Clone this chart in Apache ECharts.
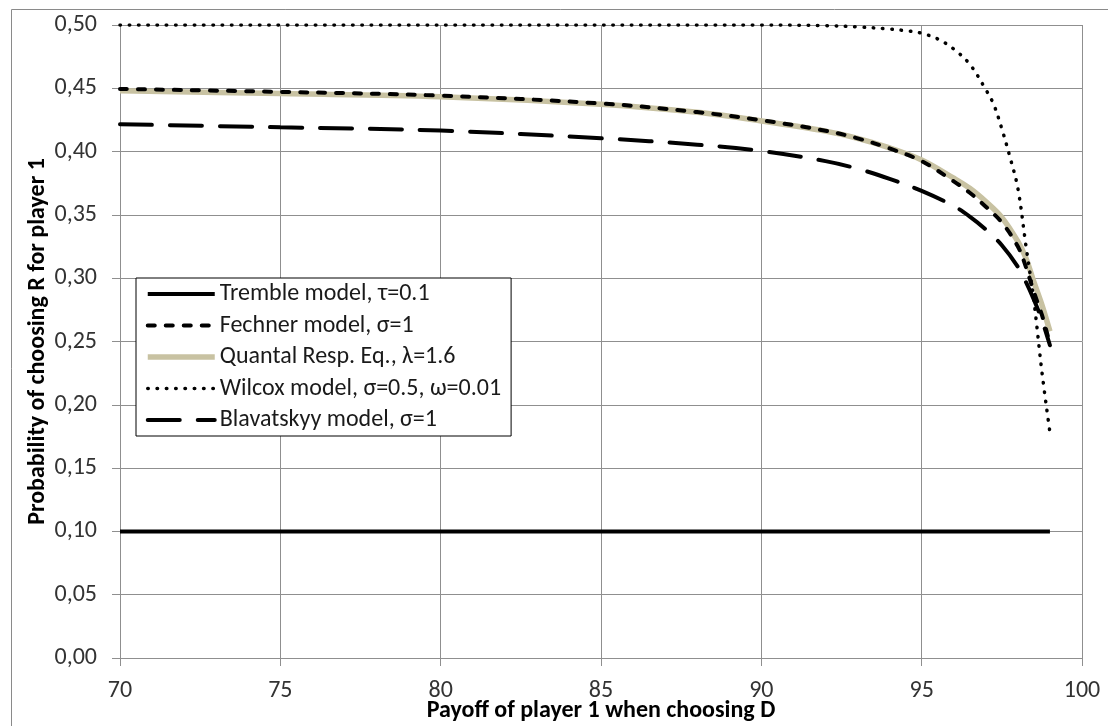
<!DOCTYPE html>
<html>
<head>
<meta charset="utf-8">
<script src="https://cdn.jsdelivr.net/npm/echarts@6/dist/echarts.min.js"></script>
<style>
html,body{margin:0;padding:0;background:#fff;}
#chart{width:1108px;height:726px;}
</style>
</head>
<body>
<div id="chart"></div>
<script>
// ---- data ----
const seriesNames = [
  'Tremble model, τ=0.1',
  'Fechner model, σ=1',
  'Quantal Resp. Eq., λ=1.6',
  'Wilcox model, σ=0.5, ω=0.01',
  'Blavatskyy model, σ=1'
];
const xValues = [70, 75, 80, 85, 88, 90, 92, 93, 94, 95, 96, 96.5, 97, 97.5, 98, 98.25, 98.5, 98.75, 99];
const trembleY = [0.10, 0.10, 0.10, 0.10, 0.10, 0.10, 0.10, 0.10, 0.10, 0.10, 0.10, 0.10, 0.10, 0.10, 0.10, 0.10, 0.10, 0.10, 0.10];
const fechnerY = [0.4495, 0.4472, 0.4442, 0.4380, 0.4312, 0.4248, 0.4165, 0.4105, 0.4025, 0.3925, 0.3765, 0.3675, 0.3565, 0.3440, 0.3250, 0.3090, 0.2890, 0.2710, 0.2480];
const qreY     = [0.4480, 0.4458, 0.4434, 0.4374, 0.4310, 0.4242, 0.4162, 0.4105, 0.4030, 0.3934, 0.3790, 0.3710, 0.3605, 0.3480, 0.3290, 0.3160, 0.2970, 0.2790, 0.2580];
const blavY    = [0.4216, 0.4192, 0.4166, 0.4105, 0.4055, 0.4005, 0.3925, 0.3865, 0.3785, 0.3690, 0.3570, 0.3487, 0.3385, 0.3260, 0.3090, 0.2970, 0.2830, 0.2670, 0.2470];
const wilcoxX  = [70, 80, 90, 92, 93, 94, 94.5, 95, 95.5, 96, 96.5, 97, 97.25, 97.5, 97.75, 98, 98.25, 98.5, 98.75, 99];
const wilcoxY  = [0.5, 0.5, 0.5, 0.4995, 0.4985, 0.4968, 0.4955, 0.4935, 0.489, 0.481, 0.469, 0.449, 0.437, 0.418, 0.396, 0.371, 0.326, 0.282, 0.226, 0.178];
const xAxisTitle = 'Payoff of player 1 when choosing D';
const yAxisTitle = 'Probability of choosing R for player 1';

const pair = (xs, ys) => xs.map((x, i) => [x, ys[i]]);
const FONT = 'Carlito, Calibri, Lato, sans-serif';
const GRID_COLOR = '#8f8f8f';

const chart = echarts.init(document.getElementById('chart'), null, {renderer: 'canvas'});
const baseLine = {
  type: 'line', showSymbol: false, symbol: 'none', animation: false,
  smooth: 0.35
};
chart.setOption({
  animation: false,
  backgroundColor: '#ffffff',
  graphic: [{
    type: 'rect', left: 9, top: 7, silent: true, z: -10,
    shape: {x: 0, y: 0, width: 1200, height: 800},
    style: {fill: 'none', stroke: '#8a8a8a', lineWidth: 1}
  }],
  grid: {left: 120, right: 26, top: 25, bottom: 68, containLabel: false, outerBoundsMode: 'none'},
  legend: {
    data: seriesNames,
    orient: 'vertical',
    left: 136, top: 278,
    backgroundColor: '#ffffff',
    borderColor: '#000000', borderWidth: 1,
    padding: [4, 10, 4, 9],
    itemWidth: 67, itemHeight: 14, itemGap: 7.5,
    itemStyle: {opacity: 0},
    lineStyle: {width: 'inherit', type: 'inherit', cap: 'inherit'},
    textStyle: {fontFamily: FONT, fontSize: 24, color: '#1a1a1a', lineHeight: 24},
    selectedMode: false
  },
  xAxis: {
    type: 'value', min: 70, max: 100, interval: 5,
    name: xAxisTitle, nameLocation: 'middle', nameGap: 41, nameMoveOverlap: false,
    nameTextStyle: {fontFamily: FONT, fontSize: 24, fontWeight: 'bold', color: '#000'},
    axisLine: {show: true, onZero: false, lineStyle: {color: GRID_COLOR, width: 1}},
    axisTick: {show: true, length: 8, lineStyle: {color: GRID_COLOR}},
    axisLabel: {margin: 21, fontFamily: FONT, fontSize: 24, color: '#333'},
    splitLine: {show: true, lineStyle: {color: GRID_COLOR, width: 1}}
  },
  yAxis: {
    type: 'value', min: 0, max: 0.5, interval: 0.05,
    name: yAxisTitle, nameLocation: 'middle', nameGap: 70, nameMoveOverlap: false,
    nameTextStyle: {fontFamily: FONT, fontSize: 24, fontWeight: 'bold', color: '#000'},
    axisLine: {show: true, lineStyle: {color: GRID_COLOR, width: 1}},
    axisTick: {show: true, length: 8, lineStyle: {color: GRID_COLOR}},
    axisLabel: {margin: 23, fontFamily: FONT, fontSize: 24, color: '#333',
      formatter: v => v.toFixed(2).replace('.', ',')},
    splitLine: {show: true, lineStyle: {color: GRID_COLOR, width: 1}}
  },
  series: [
    Object.assign({}, baseLine, {
      name: seriesNames[0], data: pair(xValues, trembleY), z: 5,
      color: '#000',
      lineStyle: {color: '#000', width: 4, type: 'solid'}
    }),
    Object.assign({}, baseLine, {
      name: seriesNames[1], data: pair(xValues, fechnerY), z: 6,
      color: '#000',
      lineStyle: {color: '#000', width: 4, type: [7, 11], cap: 'round'}
    }),
    Object.assign({}, baseLine, {
      name: seriesNames[2], data: pair(xValues, qreY), z: 3,
      color: '#c8c2a2',
      lineStyle: {color: '#c8c2a2', width: 5.5, type: 'solid'}
    }),
    Object.assign({}, baseLine, {
      name: seriesNames[3], data: pair(wilcoxX, wilcoxY), z: 7,
      color: '#000',
      lineStyle: {color: '#000', width: 3.5, type: [0.5, 8.8], cap: 'round'}
    }),
    Object.assign({}, baseLine, {
      name: seriesNames[4], data: pair(xValues, blavY), z: 6,
      color: '#000',
      lineStyle: {color: '#000', width: 4, type: [32, 18], cap: 'round'}
    })
  ]
});
</script>
</body>
</html>
